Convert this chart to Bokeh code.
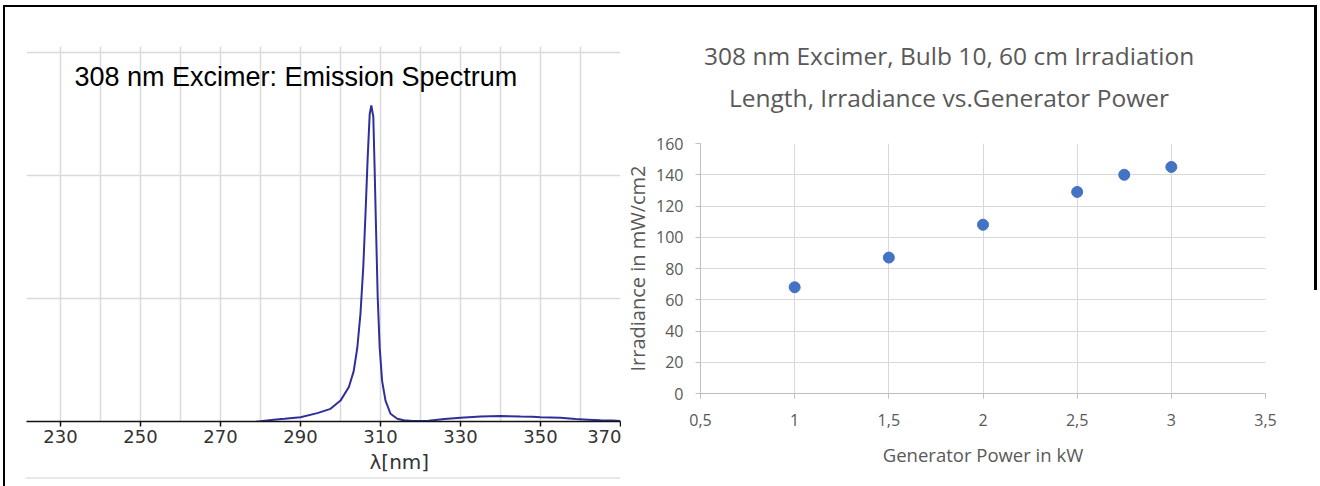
from bokeh.plotting import figure
from bokeh.models import FixedTicker, Grid, Range1d, Title, Label, ColumnDataSource, Div
from bokeh.embed import file_html
from bokeh.resources import INLINE

# ---- Left panel: 308 nm excimer emission spectrum (relative intensity)
spec_wavelength = [279, 280, 283.3, 286, 290, 294.2, 297.5, 300, 302.1, 303.3, 304.2, 305,
                   305.7, 306.25, 306.8, 307.3, 307.7, 308.2, 308.5, 308.9, 309.3, 309.8,
                   310.4, 311.25, 312.5, 314.2, 315.8, 318, 322, 326, 330, 335, 340, 345,
                   348, 350, 355, 358.75, 362, 365, 368, 370]
spec_intensity = [0.0, 0.003, 0.014, 0.022, 0.035, 0.068, 0.103, 0.17, 0.28, 0.41, 0.60, 0.88,
                  1.26, 1.69, 2.15, 2.50, 2.57, 2.48, 2.10, 1.55, 1.01, 0.60,
                  0.33, 0.17, 0.063, 0.022, 0.01, 0.004, 0.006, 0.02, 0.03, 0.04, 0.045, 0.04,
                  0.038, 0.035, 0.03, 0.02, 0.015, 0.01, 0.008, 0.005]
spec_ticks = [230, 250, 270, 290, 310, 330, 350, 370]
spec_grid_x = [230, 240, 250, 260, 270, 280, 290, 300, 310, 320, 330, 340, 350, 360, 370]
spec_grid_y = [1, 2, 3]
spec_title = "308 nm Excimer: Emission Spectrum"
spec_xlabel = "λ[nm]"

# ---- Right panel: irradiance vs generator power
power_kw = [1, 1.5, 2, 2.5, 2.75, 3]
irradiance = [68, 87, 108, 129, 140, 145]
power_ticks = [0.5, 1, 1.5, 2, 2.5, 3, 3.5]
power_tick_labels = ["0,5", "1", "1,5", "2", "2,5", "3", "3,5"]
irr_ticks = [0, 20, 40, 60, 80, 100, 120, 140, 160]
irr_title_1 = "308 nm Excimer, Bulb 10, 60 cm Irradiation"
irr_title_2 = "Length, Irradiance vs.Generator Power"
irr_xlabel = "Generator Power in kW"
irr_ylabel = "Irradiance in mW/cm2"

GREY_TXT = "#595959"

# ================= left figure =================
p1 = figure(width=621, height=486, x_range=Range1d(221.5, 370), y_range=Range1d(0, 3.05),
            output_backend="svg", toolbar_location=None, y_axis_location=None,
            min_border_left=26, min_border_right=1, min_border_top=46, min_border_bottom=65,
            outline_line_color=None, background_fill_color="white", border_fill_color="white",
            styles={"position": "absolute", "left": "0px", "top": "0px"})
p1.xgrid.visible = False
p1.ygrid.visible = False
p1.add_layout(Grid(dimension=0, ticker=FixedTicker(ticks=spec_grid_x),
                   grid_line_color="#DADADA", grid_line_width=1.5))
p1.add_layout(Grid(dimension=1, ticker=FixedTicker(ticks=spec_grid_y),
                   grid_line_color="#DADADA", grid_line_width=1.5))
ax = p1.xaxis[0]
ax.ticker = FixedTicker(ticks=spec_ticks)
ax.axis_line_color = "#111111"
ax.axis_line_width = 1.5
ax.major_tick_line_color = "#111111"
ax.major_tick_line_width = 1.5
ax.major_tick_out = 5
ax.major_tick_in = 0
ax.minor_tick_line_color = None
ax.major_label_text_font = "DejaVu Sans"
ax.major_label_text_font_size = "18px"
ax.major_label_text_color = "#333333"
ax.major_label_standoff = 3

p1.add_layout(Title(text=spec_xlabel, align="left", offset=343, text_font="DejaVu Sans",
                    text_font_size="20px", text_font_style="normal", text_color="#333333",
                    standoff=5), "below")

src1 = ColumnDataSource(dict(x=spec_wavelength, y=spec_intensity))
p1.line("x", "y", source=src1, line_color="#2F2F9C", line_width=2)

p1.add_layout(Label(x=233.5, y=2.8, text=spec_title, text_font="Liberation Sans",
                    text_font_size="27px", text_baseline="middle", text_color="black"))

# ================= right figure =================
p2 = figure(width=699, height=486, x_range=Range1d(0.5, 3.5), y_range=Range1d(0, 160),
            output_backend="svg", toolbar_location=None,
            min_border_left=79, min_border_right=55, min_border_top=143, min_border_bottom=93,
            outline_line_color=None, background_fill_color="white", border_fill_color="white",
            styles={"position": "absolute", "left": "621px", "top": "0px"})
for a in (p2.xaxis[0], p2.yaxis[0]):
    a.axis_line_color = "#BFBFBF"
    a.major_tick_line_color = "#BFBFBF"
    a.major_tick_out = 5
    a.major_tick_in = 0
    a.minor_tick_line_color = None
    a.major_label_text_font = "Open Sans"
    a.major_label_text_font_size = "16px"
    a.major_label_text_color = GREY_TXT
    a.axis_label_text_font = "Open Sans"
    a.axis_label_text_font_style = "normal"
    a.axis_label_text_color = GREY_TXT
p2.xaxis[0].ticker = FixedTicker(ticks=power_ticks)
p2.xaxis[0].major_label_overrides = {t: l for t, l in zip(power_ticks, power_tick_labels)}
p2.xaxis[0].major_label_standoff = 15
p2.xaxis[0].axis_label = irr_xlabel
p2.xaxis[0].axis_label_text_font_size = "18.5px"
p2.xaxis[0].axis_label_standoff = 13
p2.yaxis[0].ticker = FixedTicker(ticks=irr_ticks)
p2.yaxis[0].major_label_standoff = 12
p2.yaxis[0].axis_label = irr_ylabel
p2.yaxis[0].axis_label_text_font_size = "20px"
p2.yaxis[0].axis_label_standoff = 2
p2.xgrid.grid_line_color = "#D9D9D9"
p2.ygrid.grid_line_color = "#D9D9D9"

p2.scatter(power_kw, irradiance, size=11, fill_color="#4472C4", line_color="#4472C4")

# spacer between plot frame and the two title lines
p2.add_layout(Title(text=" ", text_font_size="1px", standoff=20), "above")
p2.add_layout(Title(text=irr_title_2, align="left", offset=28.5, text_font="Open Sans",
                    text_font_size="24.5px", text_font_style="normal", text_color=GREY_TXT,
                    standoff=13), "above")
p2.add_layout(Title(text=irr_title_1, align="left", offset=3.5, text_font="Open Sans",
                    text_font_size="24.5px", text_font_style="normal", text_color=GREY_TXT,
                    standoff=1), "above")

# ---- decorations: outer black frame and faint bottom rule of the left panel
frame_div = Div(text="", width=1313, height=481,
                styles={"position": "absolute", "left": "3px", "top": "5px", "margin": "0px",
                        "padding": "0px", "box-sizing": "border-box",
                        "border-left": "2.5px solid black",
                        "border-top": "2.5px solid black",
                        "pointer-events": "none", "z-index": "10"})
right_div = Div(text="", width=3, height=285,
                styles={"position": "absolute", "left": "1313.5px", "top": "5px", "margin": "0px",
                        "background-color": "black", "pointer-events": "none", "z-index": "10"})
rule_div = Div(text="", width=594, height=2,
               styles={"position": "absolute", "left": "26px", "top": "477px", "margin": "0px",
                       "background-color": "#E8E8E8", "z-index": "5"})

open("out.html", "w").write(file_html([p1, p2, rule_div, frame_div, right_div], INLINE))
